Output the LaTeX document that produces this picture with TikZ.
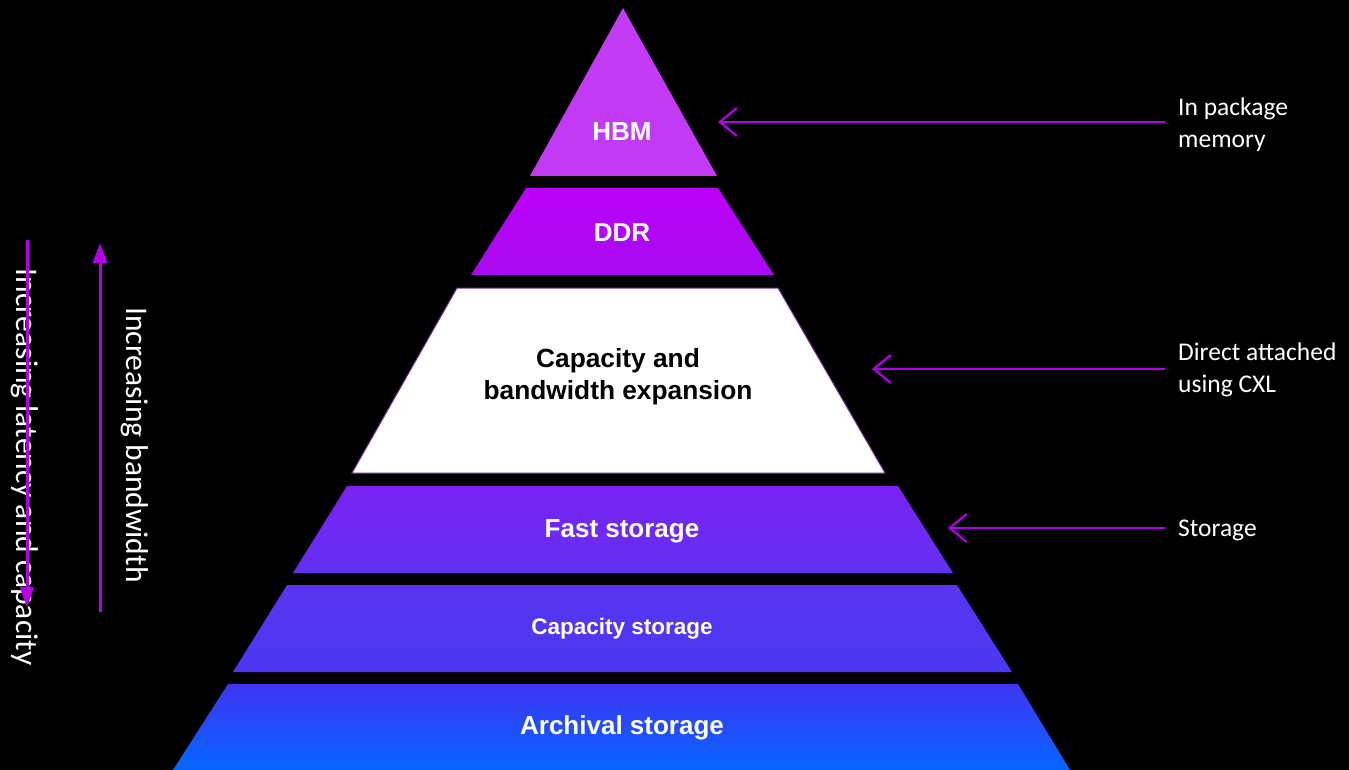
\documentclass[tikz,border=0pt]{standalone}
\usepackage{fontspec}
\setmainfont{Carlito}
\newfontfamily\arialfont{Liberation Sans}
\usetikzlibrary{arrows.meta}
\definecolor{arrowpurple}{HTML}{B400E8}
\definecolor{hbmc}{HTML}{C33AF4}
\definecolor{ddrtop}{HTML}{BA00F6}
\definecolor{ddrbot}{HTML}{A80AF2}
\definecolor{cxlline}{HTML}{7030A0}
\definecolor{fasttop}{HTML}{7A22F3}
\definecolor{fastbot}{HTML}{6230F1}
\definecolor{captop}{HTML}{5A34F1}
\definecolor{capbot}{HTML}{4A38F2}
\definecolor{archtop}{HTML}{3E35F2}
\definecolor{archbot}{HTML}{0566FF}
\begin{document}
\begin{tikzpicture}[x=1pt,y=-1pt,
  layerlabel/.style={text=white,inner sep=0pt,align=center,font=\arialfont\bfseries\fontsize{26}{30}\selectfont},
  sidelabel/.style={text=white,anchor=west,align=left,inner sep=0pt,font=\fontsize{25.5}{32}\selectfont},
  axislabel/.style={text=white,inner sep=0pt,rotate=-90,font=\fontsize{31.5}{36}\selectfont},
  pointer/.style={draw=arrowpurple,line width=2.3pt,-{Straight Barb[length=17pt,width=28pt,line width=2.3pt]}},
  axisarrow/.style={draw=arrowpurple,line width=3pt,-{Triangle[length=20pt,width=14pt]}},
]
\fill[black] (0,0) rectangle (1349,770);
\useasboundingbox (0,0) rectangle (1349,770);

% pyramid layers
\fill[hbmc] (623,8) -- (717,176) -- (530,176) -- cycle;
\shade[top color=ddrtop,bottom color=ddrbot] (526,188) -- (718,188) -- (774,275) -- (471,275) -- cycle;
\filldraw[fill=white,draw=cxlline,line width=1pt] (457,288) -- (778,288) -- (885,473) -- (352,473) -- cycle;
\shade[top color=fasttop,bottom color=fastbot] (347,486) -- (898,486) -- (953,573) -- (293,573) -- cycle;
\shade[top color=captop,bottom color=capbot] (287,585) -- (957,585) -- (1012,672) -- (233,672) -- cycle;
\shade[top color=archtop,bottom color=archbot] (228,684) -- (1018,684) -- (1070,770) -- (173,770) -- cycle;

% layer labels
\node[layerlabel] (hbm) at (622,132) {HBM};
\node[layerlabel] (ddr) at (622,233) {DDR};
\node[layerlabel,text=black,font=\arialfont\bfseries\fontsize{26.3}{32}\selectfont] (cxl) at (618,377) {Capacity and\\bandwidth expansion};
\node[layerlabel] (fast) at (622,531) {Fast storage};
\node[layerlabel,font=\arialfont\bfseries\fontsize{22.5}{27}\selectfont] (cap) at (622,629) {Capacity storage};
\node[layerlabel] (arch) at (622,728) {Archival storage};

% side labels
\node[sidelabel] (pkg) at (1178,125) {In package\\memory};
\node[sidelabel] (direct) at (1178,370) {Direct attached\\using CXL};
\node[sidelabel] (stor) at (1178,530) {Storage};

\coordinate (tipA) at (718,122);
\coordinate (tipB) at (872,369);
\coordinate (tipC) at (948,528);
\draw[pointer] ([xshift=-13pt]pkg.west |- tipA) -- (tipA);
\draw[pointer] ([xshift=-13pt]direct.west |- tipB) -- (tipB);
\draw[pointer] ([xshift=-13pt]stor.west |- tipC) -- (tipC);

% left axis
\node[axislabel] (lat) at (25,467) {Increasing latency and capacity};
\node[axislabel] (bw) at (135,445) {Increasing bandwidth};
\coordinate (latS) at (27,240);
\coordinate (latE) at (27,607);
\coordinate (bwS) at (100,612);
\coordinate (bwE) at (100,243);
\draw[axisarrow] (latS) -- (latE);
\draw[axisarrow] (bwS) -- (bwE);
\end{tikzpicture}
\end{document}
